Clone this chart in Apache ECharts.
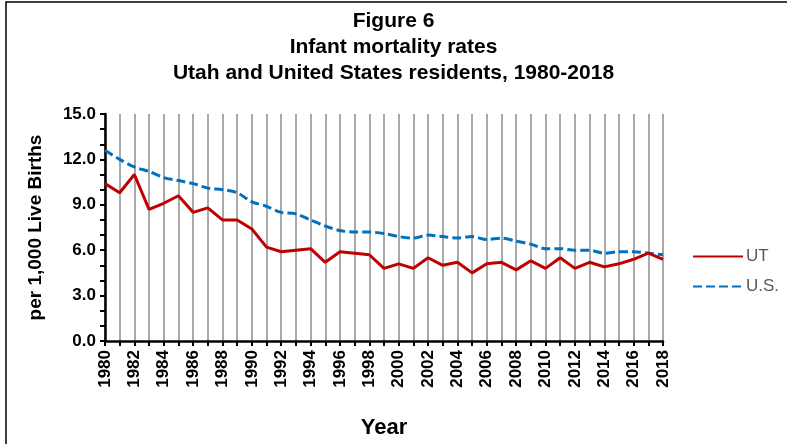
<!DOCTYPE html>
<html>
<head>
<meta charset="utf-8">
<script src="https://cdn.jsdelivr.net/npm/echarts@6/dist/echarts.min.js"></script>
<style>
  html, body { margin: 0; padding: 0; background: #fff; }
  #graph { width: 787px; height: 444px; }
</style>
</head>
<body>
<div id="graph"></div>
<script>
// data
var years = [];
for (var y = 1980; y <= 2018; y++) years.push(String(y));

var utRates = [10.4, 9.8, 11.0, 8.7, 9.1, 9.6, 8.5, 8.8, 8.0, 8.0,
               7.4, 6.2, 5.9, 6.0, 6.1, 5.2, 5.9, 5.8, 5.7, 4.8,
               5.1, 4.8, 5.5, 5.0, 5.2, 4.5, 5.1, 5.2, 4.7, 5.3,
               4.8, 5.5, 4.8, 5.2, 4.9, 5.1, 5.4, 5.8, 5.4];

var usRates = [12.6, 12.0, 11.5, 11.2, 10.8, 10.6, 10.4, 10.1, 10.0, 9.8,
               9.2, 8.9, 8.5, 8.4, 8.0, 7.6, 7.3, 7.2, 7.2, 7.1,
               6.9, 6.8, 7.0, 6.9, 6.8, 6.9, 6.7, 6.8, 6.6, 6.4,
               6.1, 6.1, 6.0, 6.0, 5.8, 5.9, 5.9, 5.8, 5.7];

var myChart = echarts.init(document.getElementById('graph'));

var font = 'Liberation Sans, Arial, sans-serif';

var option = {
    animation: false,
    backgroundColor: '#fff',
    title: {
        text: 'Figure 6\nInfant mortality rates\nUtah and United States residents, 1980-2018',
        left: 'center',
        top: 3,
        textStyle: {
            fontFamily: font,
            fontWeight: 'bold',
            fontSize: 21,
            lineHeight: 26,
            color: '#000'
        }
    },
    graphic: [{
        type: 'rect',
        shape: { x: 6, y: 2, width: 900, height: 600 },
        style: { fill: 'none', stroke: '#000', lineWidth: 1.5 },
        silent: true
    }],
    legend: {
        orient: 'vertical',
        left: 692,
        top: 248,
        padding: 0,
        itemWidth: 50,
        itemHeight: 10,
        itemGap: 13,
        itemStyle: { opacity: 0 },
        textStyle: {
            fontFamily: font,
            fontSize: 17,
            color: '#595959',
            padding: [0, 0, 0, -2]
        },
        data: ['UT', 'U.S.']
    },
    grid: {
        left: 105,
        right: 124,
        top: 114,
        bottom: 100
    },
    xAxis: {
        type: 'category',
        boundaryGap: false,
        data: years,
        name: 'Year',
        nameLocation: 'middle',
        nameGap: 76,
        nameTextStyle: {
            fontFamily: font,
            fontWeight: 'bold',
            fontSize: 22,
            color: '#000'
        },
        axisLine: {
            lineStyle: { color: '#000', width: 2.5 }
        },
        axisTick: {
            show: true,
            interval: 0,
            length: 5,
            lineStyle: { color: '#000', width: 2 }
        },
        axisLabel: {
            interval: 1,
            rotate: 90,
            margin: 9,
            fontFamily: font,
            fontWeight: 'bold',
            fontSize: 17,
            color: '#000'
        },
        splitLine: {
            show: true,
            interval: 0,
            lineStyle: { color: '#8c8c8c', width: 1.5 }
        }
    },
    yAxis: {
        type: 'value',
        min: 0,
        max: 15,
        interval: 3,
        name: 'per 1,000 Live Births',
        nameLocation: 'middle',
        nameGap: 60,
        nameTextStyle: {
            fontFamily: font,
            fontWeight: 'bold',
            fontSize: 19,
            color: '#000'
        },
        axisLine: {
            show: true,
            lineStyle: { color: '#000', width: 2.5 }
        },
        axisTick: {
            show: true,
            length: 5,
            lineStyle: { color: '#000', width: 2 }
        },
        minorTick: {
            show: true,
            splitNumber: 3,
            length: 5,
            lineStyle: { color: '#000', width: 2 }
        },
        axisLabel: {
            margin: 9,
            fontFamily: font,
            fontWeight: 'bold',
            fontSize: 17,
            color: '#000',
            formatter: function (v) { return v.toFixed(1); }
        },
        splitLine: { show: false }
    },
    series: [
        {
            name: 'UT',
            type: 'line',
            data: utRates,
            showSymbol: false,
            symbol: 'none',
            z: 3,
            itemStyle: { color: '#C00000' },
            lineStyle: { color: '#C00000', width: 3 }
        },
        {
            name: 'U.S.',
            type: 'line',
            data: usRates,
            showSymbol: false,
            symbol: 'none',
            smooth: 0.3,
            z: 2,
            itemStyle: { color: '#0070C0' },
            lineStyle: { color: '#0070C0', width: 3, type: [9, 4] }
        }
    ]
};

myChart.setOption(option);
</script>
</body>
</html>
